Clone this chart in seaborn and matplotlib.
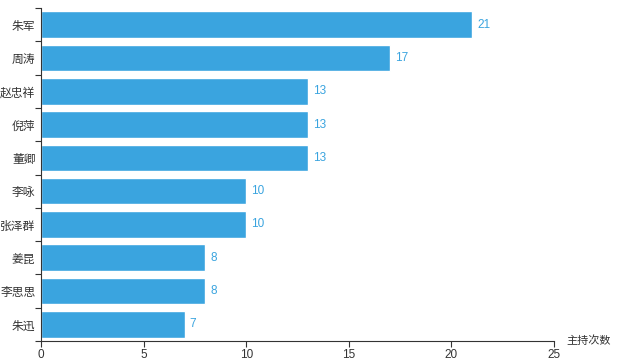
import pandas as pd
import numpy as np
import matplotlib
matplotlib.use('Agg')
import matplotlib.pyplot as plt
import seaborn as sns

names = ['朱军', '周涛', '赵忠祥', '倪萍', '董卿', '李咏', '张泽群', '姜昆', '李思思', '朱迅']
counts = [21, 17, 13, 13, 13, 10, 10, 8, 8, 7]

df = pd.DataFrame({'name': names, 'count': counts})

sns.set_style('white')
plt.rcParams['font.family'] = ['Noto Sans CJK SC', 'DejaVu Sans']

bar_color = '#3AA4DF'
axis_color = '#333333'
num_font = 'Liberation Sans'

fig = plt.figure(figsize=(6.4, 3.61), dpi=100)
ax = fig.add_axes([41 / 640, 1 - 341 / 361, (554 - 41) / 640, (341 - 8) / 361])
sns.barplot(data=df, x='count', y='name', color=bar_color, saturation=1, width=0.8, ax=ax)

for i, v in enumerate(counts):
    ax.text(v + 0.25, i, str(v), va='center', ha='left', fontsize=8.5,
            color=bar_color, family=num_font)

ax.set_xlim(0, 25)
ax.set_ylim(len(names) - 0.5, -0.5)
ax.set_xticks([0, 5, 10, 15, 20, 25])
ax.tick_params(axis='x', bottom=True, length=4, width=0.8, color=axis_color,
               labelsize=8.5, labelcolor=axis_color, pad=2)
for lbl in ax.get_xticklabels():
    lbl.set_family(num_font)
ax.tick_params(axis='y', which='major', left=True, length=0, labelsize=8.5, labelcolor=axis_color, pad=4)
ax.set_yticks(np.arange(-0.5, len(names), 1), minor=True)
ax.tick_params(axis='y', which='minor', left=True, length=4, width=0.8, color=axis_color)
ax.set_xlabel('')
ax.set_ylabel('')

sns.despine(ax=ax)
for s in ['left', 'bottom']:
    ax.spines[s].set_color(axis_color)
    ax.spines[s].set_linewidth(0.8)

ax.text(1.025, 0, '主持次数', transform=ax.transAxes, va='center', ha='left', fontsize=8, color=axis_color)

fig.savefig('out.png', dpi=100)
